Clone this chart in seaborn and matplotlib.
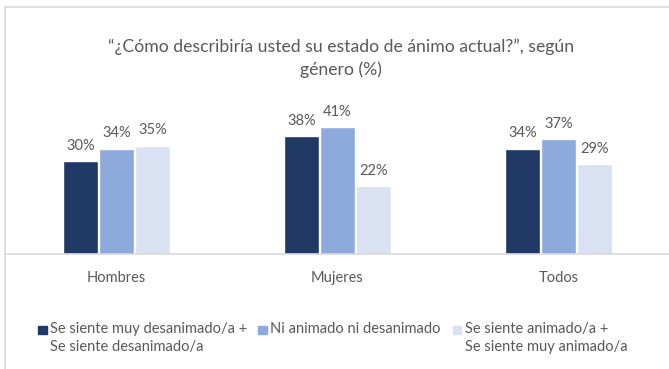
import matplotlib
matplotlib.use("Agg")
import matplotlib.pyplot as plt
import seaborn as sns
import pandas as pd
from matplotlib.lines import Line2D
from matplotlib.patches import Rectangle

# Survey results by gender (%)
categories = ["Hombres", "Mujeres", "Todos"]
series_names = [
    "Se siente muy desanimado/a +\nSe siente desanimado/a",
    "Ni animado ni desanimado",
    "Se siente animado/a +\nSe siente muy animado/a",
]
desanimado = [30, 38, 34]
neutral = [34, 41, 37]
animado = [35, 22, 29]

colors = ["#1F3864", "#8EA9DB", "#D9E1F2"]
text_color = "#595959"
frame_color = "#D9D9D9"

df = pd.DataFrame({
    "Grupo": categories * 3,
    "Respuesta": [series_names[0]] * 3 + [series_names[1]] * 3 + [series_names[2]] * 3,
    "Valor": desanimado + neutral + animado,
})

sns.set_theme(style="white")
plt.rcParams["font.family"] = ["Lato", "DejaVu Sans"]

W, H = 669, 369
fig = plt.figure(figsize=(W / 100, H / 100), dpi=100)
ax = fig.add_axes([6 / W, 115 / H, (W - 6) / W, 144 / H])

sns.barplot(
    data=df, x="Grupo", y="Valor", hue="Respuesta",
    palette=colors, width=0.49, gap=0.05, ax=ax, legend=False,
    saturation=1,
)

for container in ax.containers:
    ax.bar_label(container, labels=[f"{v:.0f}%" for v in container.datavalues],
                 padding=6, fontsize=10.5, color=text_color)

ax.set_ylim(0, 46.5)
ax.set_xlim(-0.5, 2.5)
ax.set_xlabel("")
ax.set_ylabel("")
ax.set_yticks([])
for side in ["top", "right", "left"]:
    ax.spines[side].set_visible(False)
ax.spines["bottom"].set_color(frame_color)
ax.spines["bottom"].set_linewidth(1.2)
ax.tick_params(axis="x", length=0, pad=12, labelsize=10.5, labelcolor=text_color)

# Outer frame of the chart area
fig.add_artist(Line2D([5 / W, 5 / W], [0, 1 - 7 / H], color=frame_color, lw=1.2))
fig.add_artist(Line2D([5 / W, 1], [1 - 7 / H, 1 - 7 / H], color=frame_color, lw=1.2))

fig.text(341 / W, 1 - 58 / H,
         "“¿Cómo describiría usted su estado de ánimo actual?”, según\ngénero (%)",
         ha="center", va="center", fontsize=12.7, color=text_color, linespacing=1.45)

# Legend: square swatch beside the first line of each (possibly two-line) label
legend_x = [38, 258, 453]
for x, c, name in zip(legend_x, colors, series_names):
    fig.add_artist(Rectangle((x / W, 1 - 334 / H), 8.5 / W, 8.5 / H,
                             transform=fig.transFigure, color=c))
    fig.text((x + 12) / W, 1 - 322 / H, name, ha="left", va="top",
             fontsize=10.5, color=text_color, linespacing=1.35)

fig.savefig("out.png", dpi=100)
